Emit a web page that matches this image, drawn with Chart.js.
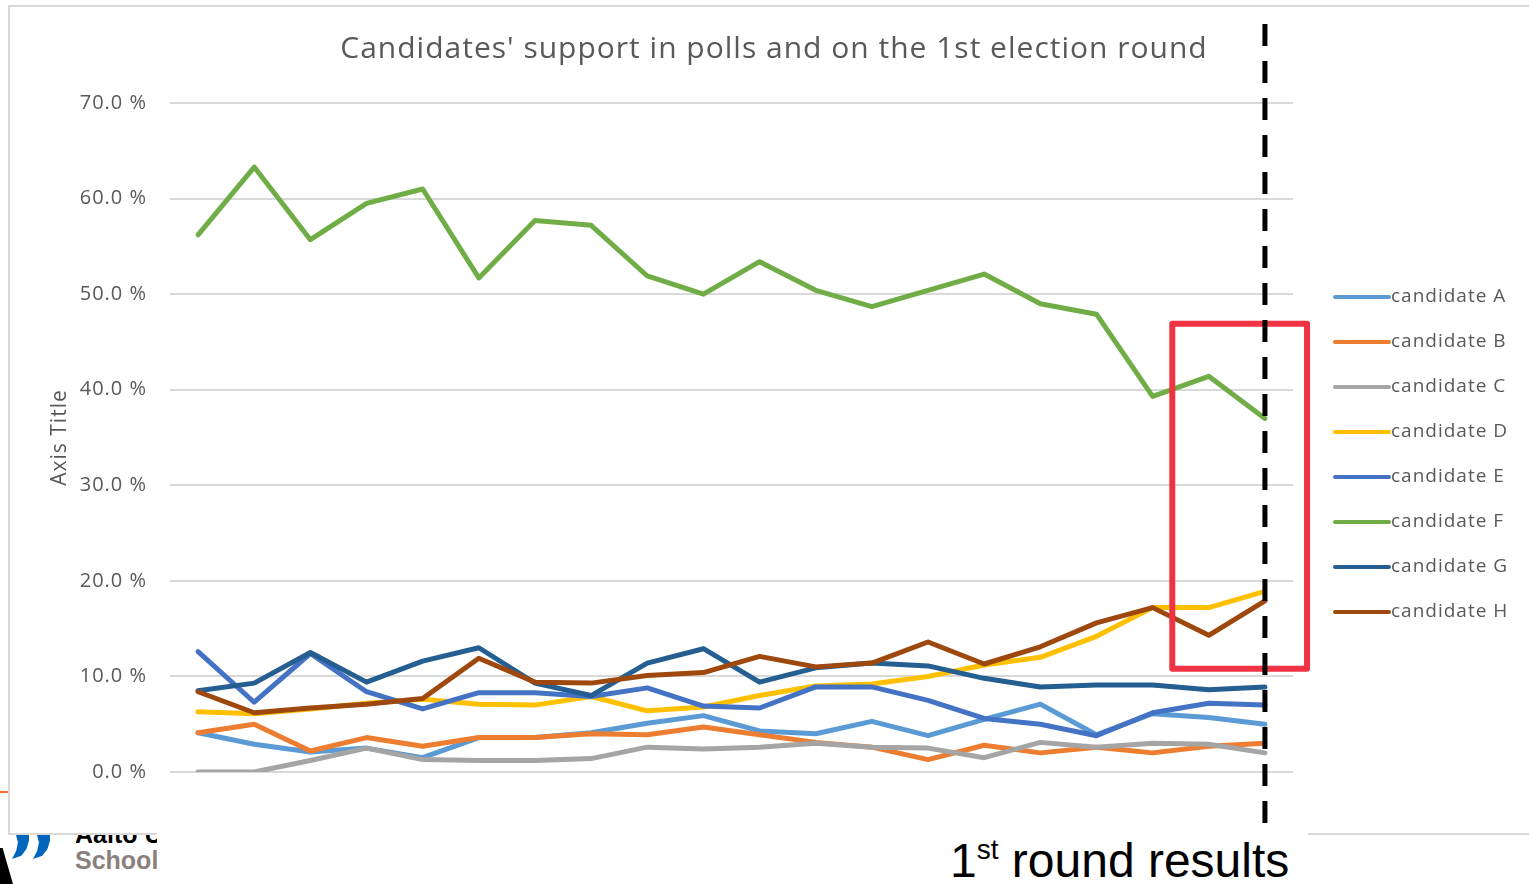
<!DOCTYPE html>
<html>
<head>
<meta charset="utf-8">
<script src="https://cdn.jsdelivr.net/npm/chart.js@4.4.0/dist/chart.umd.min.js"></script>
<style>
  html, body { margin: 0; padding: 0; background: #fff; }
  body { width: 1529px; height: 884px; overflow: hidden; position: relative; font-family: 'Open Sans', sans-serif; }
  #frame { position: absolute; left: 8px; top: 5px; width: 1532px; height: 830px; box-sizing: border-box;
           border: 2px solid #d9d9d9; background: #fff; z-index: 2; }
  #cover { position: absolute; left: 157px; top: 829px; width: 1151px; height: 55px; background: #fff; z-index: 3; }
  #caption { position: absolute; left: 950px; top: 837px; z-index: 4; font-family: 'Liberation Sans', Arial, sans-serif;
             font-size: 48px; line-height: 48px; color: #000; white-space: nowrap; }
  #caption sup { font-size: 28px; vertical-align: 18px; line-height: 0; }
  .logo-txt { position: absolute; left: 75px; font-family: 'Liberation Sans', Arial, sans-serif; font-weight: bold;
              font-size: 25px; line-height: 25px; white-space: nowrap; z-index: 1; }
  #aalto { top: 822px; color: #000; }
  #school { top: 848px; color: #8a817c; }
  .quote { position: absolute; top: 826px; width: 17px; height: 33px; background: #0065bd; z-index: 1;
           clip-path: polygon(10% 0, 100% 0, 100% 45%, 85% 70%, 55% 90%, 0 100%, 25% 75%, 35% 50%); }
  #q1 { left: 12px; }
  #q2 { left: 33px; }
  #tri { position: absolute; left: 0; top: 848px; width: 13px; height: 36px; background: #000; z-index: 1;
         clip-path: polygon(0 0, 20% 0, 100% 100%, 0 100%); }
  #orange { position: absolute; left: 0; top: 791px; width: 8px; height: 2px; background: #ff6b2b; z-index: 1; }
</style>
</head>
<body>
<div id="orange"></div>
<div id="q1" class="quote"></div>
<div id="q2" class="quote"></div>
<div id="tri"></div>
<div id="aalto" class="logo-txt">Aalto University</div>
<div id="school" class="logo-txt">School of Business</div>
<div id="frame"><canvas id="pollChart"></canvas></div>
<div id="cover"></div>
<div id="caption">1<sup>st</sup> round results</div>

<script>
// 19 polls followed by the 1st round result
const pollLabels = ['poll 1', 'poll 2', 'poll 3', 'poll 4', 'poll 5', 'poll 6', 'poll 7', 'poll 8', 'poll 9', 'poll 10',
  'poll 11', 'poll 12', 'poll 13', 'poll 14', 'poll 15', 'poll 16', 'poll 17', 'poll 18', 'poll 19', '1st round'];

const candidateA = [4.1, 2.9, 2.1, 2.5, 1.5, 3.6, 3.6, 4.1, 5.1, 5.9, 4.3, 4.0, 5.3, 3.8, 5.5, 7.1, 3.9, 6.1, 5.7, 5.0];
const candidateB = [4.1, 5.0, 2.2, 3.6, 2.7, 3.6, 3.6, 4.0, 3.9, 4.7, 3.9, 3.1, 2.6, 1.3, 2.8, 2.0, 2.6, 2.0, 2.7, 3.0];
const candidateC = [0.0, 0.0, 1.2, 2.5, 1.3, 1.2, 1.2, 1.4, 2.6, 2.4, 2.6, 3.0, 2.6, 2.5, 1.5, 3.1, 2.6, 3.0, 2.9, 2.0];
const candidateD = [6.3, 6.1, 6.6, 7.2, 7.6, 7.1, 7.0, 7.9, 6.4, 6.8, 8.0, 9.0, 9.2, 10.0, 11.2, 12.0, 14.2, 17.2, 17.2, 18.9];
const candidateE = [12.6, 7.3, 12.4, 8.4, 6.6, 8.3, 8.3, 7.9, 8.8, 6.9, 6.7, 8.9, 8.9, 7.5, 5.6, 5.0, 3.8, 6.2, 7.2, 7.0];
const candidateF = [56.2, 63.3, 55.7, 59.5, 61.0, 51.7, 57.7, 57.2, 51.9, 50.0, 53.4, 50.4, 48.7, 50.4, 52.1, 49.0, 47.9, 39.3, 41.4, 37.0];
const candidateG = [8.5, 9.3, 12.5, 9.4, 11.6, 13.0, 9.3, 8.0, 11.4, 12.9, 9.4, 10.9, 11.4, 11.1, 9.8, 8.9, 9.1, 9.1, 8.6, 8.9];
const candidateH = [8.4, 6.2, 6.7, 7.1, 7.7, 11.9, 9.4, 9.3, 10.1, 10.4, 12.1, 11.0, 11.4, 13.6, 11.3, 13.1, 15.6, 17.2, 14.3, 17.9];

const seriesNames = ['candidate A', 'candidate B', 'candidate C', 'candidate D', 'candidate E', 'candidate F', 'candidate G', 'candidate H'];
const seriesColors = ['#5b9bd5', '#ed7d31', '#a5a5a5', '#ffc000', '#4472c4', '#70ad47', '#255e91', '#9e480e'];
const seriesValues = [candidateA, candidateB, candidateC, candidateD, candidateE, candidateF, candidateG, candidateH];

const yTicks = [0, 10, 20, 30, 40, 50, 60, 70];

const textGrey = '#595959';
const chartFont = "'Open Sans', sans-serif";

// the original text is a bit more spaced out than Open Sans
const spacingPlugin = {
  id: 'spacing',
  beforeDraw(chart) {
    chart.ctx.letterSpacing = '1px';
  },
  afterDraw(chart) {
    chart.ctx.letterSpacing = '0px';
  },
};

// dashed "result" line, red highlight box and the legend on the right
const overlayPlugin = {
  id: 'overlay',
  afterDatasetsDraw(chart) {
    const { ctx, chartArea } = chart;
    const xs = chart.scales.x;
    const ys = chart.scales.y;

    // red box around the last two points
    const left = xs.getPixelForValue(17.35);
    const right = xs.getPixelForValue(19.75);
    const top = ys.getPixelForValue(46.9);
    const bottom = ys.getPixelForValue(10.8);
    ctx.save();
    ctx.strokeStyle = '#ef3343';
    ctx.lineWidth = 6;
    ctx.lineJoin = 'round';
    ctx.strokeRect(left, top, right - left, bottom - top);
    ctx.restore();

    // dashed vertical line at the 1st round result
    const xr = xs.getPixelForValue(pollLabels.length - 1);
    ctx.save();
    ctx.strokeStyle = '#000';
    ctx.lineWidth = 5;
    ctx.setLineDash([22, 15]);
    ctx.beginPath();
    ctx.moveTo(xr, 17);
    ctx.lineTo(xr, chart.height);
    ctx.stroke();
    ctx.restore();

    // legend
    ctx.save();
    ctx.font = '19px ' + chartFont;
    ctx.letterSpacing = '1px';
    ctx.textBaseline = 'middle';
    ctx.textAlign = 'left';
    let y = chartArea.top + 194;
    chart.data.datasets.forEach((ds) => {
      ctx.strokeStyle = ds.borderColor;
      ctx.lineWidth = 4;
      ctx.lineCap = 'round';
      ctx.beginPath();
      ctx.moveTo(chartArea.right + 42, y);
      ctx.lineTo(chartArea.right + 96, y);
      ctx.stroke();
      ctx.fillStyle = textGrey;
      ctx.fillText(ds.label, chartArea.right + 98, y);
      y += 45;
    });
    ctx.restore();
  },
};

const ctx = document.getElementById('pollChart').getContext('2d');

const pollChart = new Chart(ctx, {
  type: 'line',
  data: {
    labels: pollLabels,
    datasets: seriesNames.map((name, i) => ({
      label: name,
      data: seriesValues[i],
      borderColor: seriesColors[i],
      backgroundColor: seriesColors[i],
      borderWidth: 5,
      borderJoinStyle: 'round',
      borderCapStyle: 'round',
      pointRadius: 0,
      tension: 0,
      fill: false,
      order: seriesNames.length - i, // later series on top, like the original
    })),
  },
  options: {
    responsive: true,
    maintainAspectRatio: false,
    animation: false,
    layout: { padding: { left: 0, right: 0, top: 0, bottom: 61 } },
    plugins: {
      legend: { display: false },
      tooltip: { enabled: false },
      title: {
        display: true,
        text: "Candidates' support in polls and on the 1st election round",
        color: textGrey,
        font: { family: chartFont, size: 30, weight: 'normal' },
        padding: { top: 24, bottom: 36 },
      },
    },
    scales: {
      x: {
        display: false,
        offset: true,
      },
      y: {
        min: 0,
        max: 70,
        afterBuildTicks: (scale) => {
          scale.ticks = yTicks.map((v) => ({ value: v }));
        },
        afterFit: (scale) => {
          scale.width = 160;
        },
        ticks: {
          padding: 23,
          color: textGrey,
          font: { family: chartFont, size: 20 },
          callback: (v) => v.toFixed(1) + ' %',
        },
        grid: { color: '#d9d9d9', lineWidth: 2, drawTicks: false },
        border: { display: false },
        title: {
          display: true,
          text: 'Axis Title',
          color: textGrey,
          font: { family: chartFont, size: 21 },
          padding: { top: 37, bottom: 0 },
        },
      },
      // empty axis that keeps room for the legend on the right
      legendSpace: {
        type: 'linear',
        position: 'right',
        display: true,
        ticks: { display: false },
        grid: { display: false, drawTicks: false },
        border: { display: false },
        afterFit: (scale) => {
          scale.width = 245;
        },
      },
    },
  },
  plugins: [spacingPlugin, overlayPlugin],
});
</script>
</body>
</html>
